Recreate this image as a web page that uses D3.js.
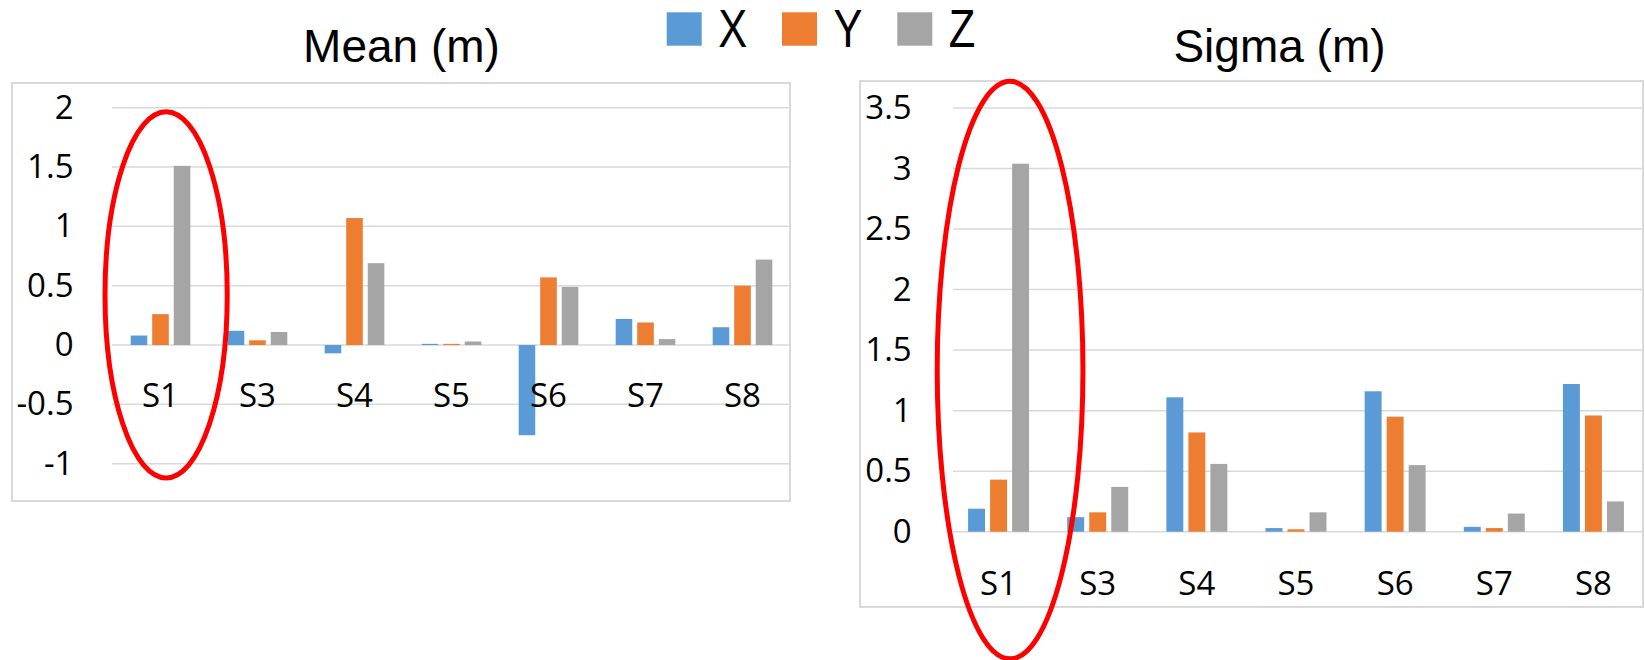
<!DOCTYPE html>
<html>
<head>
<meta charset="utf-8">
<script src="https://cdn.jsdelivr.net/npm/d3@7"></script>
<style>
  html, body { margin: 0; padding: 0; background: #ffffff; }
  svg { display: block; }
</style>
</head>
<body>
<svg id="chart" width="1645" height="660"></svg>
<script>
// ---------- data ----------
const categories = ["S1", "S3", "S4", "S5", "S6", "S7", "S8"];
const seriesNames = ["X", "Y", "Z"];
const seriesColors = ["#5b9bd5", "#ed7d31", "#a5a5a5"];

const meanX = [0.08, 0.12, -0.07, 0.01, -0.76, 0.22, 0.15];
const meanY = [0.26, 0.04, 1.07, 0.01, 0.57, 0.19, 0.50];
const meanZ = [1.51, 0.11, 0.69, 0.03, 0.49, 0.05, 0.72];

const sigmaX = [0.19, 0.12, 1.11, 0.03, 1.16, 0.04, 1.22];
const sigmaY = [0.43, 0.16, 0.82, 0.02, 0.95, 0.03, 0.96];
const sigmaZ = [3.04, 0.37, 0.56, 0.16, 0.55, 0.15, 0.25];

const meanTicks = [-1, -0.5, 0, 0.5, 1, 1.5, 2];
const sigmaTicks = [0, 0.5, 1, 1.5, 2, 2.5, 3, 3.5];

const meanTitle = "Mean (m)";
const sigmaTitle = "Sigma (m)";

// ---------- drawing ----------
const svg = d3.select("#chart");
const tickFont = "'Open Sans', 'Noto Sans', sans-serif";
const titleFont = "'Liberation Sans', Arial, sans-serif";

function drawPanel(cfg) {
  const g = svg.append("g");

  // chart border
  g.append("rect")
    .attr("x", cfg.box[0]).attr("y", cfg.box[1])
    .attr("width", cfg.box[2] - cfg.box[0]).attr("height", cfg.box[3] - cfg.box[1])
    .attr("fill", "none").attr("stroke", "#d9d9d9").attr("stroke-width", 2);

  const x0 = d3.scaleBand().domain(categories).range(cfg.xRange).paddingInner(0).paddingOuter(0);
  const groupW = x0.bandwidth() * 0.615;
  const x1 = d3.scaleBand().domain(seriesNames).range([0, groupW]).paddingInner(0.23).paddingOuter(0);
  const y = d3.scaleLinear().domain(cfg.yDomain).range(cfg.yRange);

  // gridlines
  g.append("g").selectAll("line").data(cfg.ticks).join("line")
    .attr("x1", cfg.gridLeft).attr("x2", cfg.box[2])
    .attr("y1", d => y(d)).attr("y2", d => y(d))
    .attr("stroke", "#d9d9d9").attr("stroke-width", 1.5);

  // bars
  const rows = [];
  categories.forEach((c, i) => {
    seriesNames.forEach((s, j) => {
      rows.push({ cat: c, series: s, value: cfg.values[j][i], color: seriesColors[j] });
    });
  });
  g.append("g").selectAll("rect").data(rows).join("rect")
    .attr("x", d => x0(d.cat) + (x0.bandwidth() - groupW) / 2 + x1(d.series))
    .attr("width", x1.bandwidth())
    .attr("y", d => y(Math.max(0, d.value)))
    .attr("height", d => Math.abs(y(d.value) - y(0)))
    .attr("fill", d => d.color);

  // y axis labels
  const yAxis = d3.axisLeft(y).tickValues(cfg.ticks).tickSize(0)
    .tickPadding(cfg.xRange[0] - cfg.labelRight)
    .tickFormat(d => String(d));
  const ya = g.append("g").attr("transform", `translate(${cfg.xRange[0]},0)`).call(yAxis);
  ya.select(".domain").remove();
  ya.selectAll("text").attr("font-family", tickFont).attr("font-size", 33).attr("fill", "#000");

  // x axis labels (below zero line)
  const xAxis = d3.axisBottom(x0).tickSize(0).tickPadding(0);
  const xa = g.append("g").attr("transform", `translate(0,${y(0)})`).call(xAxis);
  xa.select(".domain").remove();
  xa.selectAll("text").attr("font-family", tickFont).attr("font-size", 33).attr("fill", "#000")
    .attr("dy", null).attr("y", cfg.catOffset);

  // title
  g.append("text").attr("x", cfg.titleX).attr("y", 61.5)
    .attr("text-anchor", "middle").attr("font-family", titleFont).attr("font-size", 46)
    .attr("fill", "#000").text(cfg.title);

  // red highlight ellipse around first category
  const s1c = x0(categories[0]) + x0.bandwidth() / 2;
  const ell = cfg.ellipse;
  g.append("ellipse")
    .attr("cx", s1c + ell.dx * x0.bandwidth())
    .attr("cy", (y(ell.top) + y(ell.bottom)) / 2)
    .attr("rx", ell.rx * x0.bandwidth())
    .attr("ry", Math.abs(y(ell.bottom) - y(ell.top)) / 2)
    .attr("fill", "none").attr("stroke", "#ff0000").attr("stroke-width", 5);
}

drawPanel({
  box: [12, 83, 790, 501],
  xRange: [112, 791],
  gridLeft: 112,
  yDomain: [-1, 2],
  yRange: [463.7, 107.7],
  ticks: meanTicks,
  values: [meanX, meanY, meanZ],
  labelRight: 73.5,
  catOffset: 62,
  title: meanTitle,
  titleX: 401.5,
  ellipse: { dx: 0.058, rx: 0.63, top: 1.965, bottom: -1.12 }
});

drawPanel({
  box: [860, 81, 1643, 607],
  xRange: [949, 1643],
  gridLeft: 953,
  yDomain: [0, 3.5],
  yRange: [531.7, 108],
  ticks: sigmaTicks,
  values: [sigmaX, sigmaY, sigmaZ],
  labelRight: 911.7,
  catOffset: 63.5,
  title: sigmaTitle,
  titleX: 1279.5,
  ellipse: { dx: 0.116, rx: 0.735, top: 3.72, bottom: -1.05 }
});

// ---------- legend ----------
const legendX = d3.scalePoint().domain(seriesNames).range([666.7, 897.3]);
const leg = svg.append("g").selectAll("g").data(seriesNames).join("g")
  .attr("transform", d => `translate(${legendX(d)},0)`);
leg.append("rect").attr("x", 0).attr("y", 12.3).attr("width", 35).attr("height", 33.4)
  .attr("fill", (d, i) => seriesColors[i]);
leg.append("text")
  .attr("transform", "translate(51.5,46.7) scale(0.82,1)")
  .attr("font-family", titleFont).attr("font-size", 53).attr("fill", "#000")
  .text(d => d);
</script>
</body>
</html>
